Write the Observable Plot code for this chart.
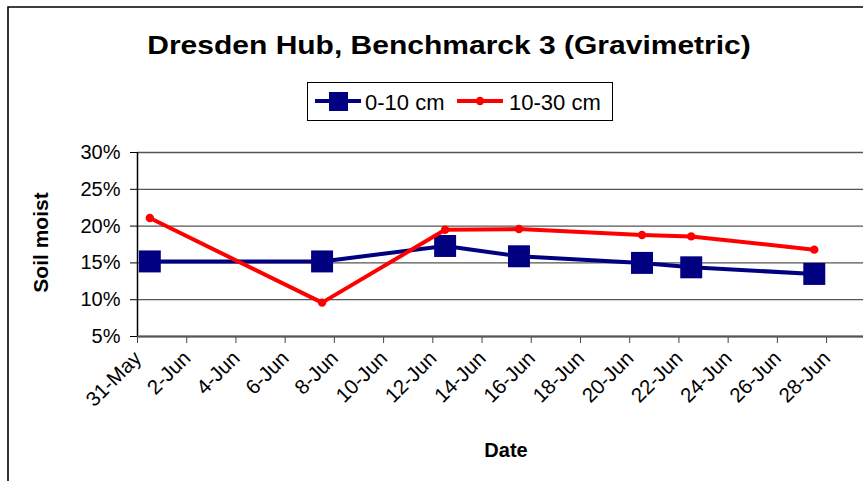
<!DOCTYPE html>
<html><head><meta charset="utf-8">
<script src="https://cdn.jsdelivr.net/npm/d3@7"></script>
<script src="https://cdn.jsdelivr.net/npm/@observablehq/plot@0.6"></script>
<style>
body{margin:0;background:#fff;}
#wrap{position:relative;width:863px;height:481px;overflow:hidden;background:#fff;}
</style>
</head><body>
<div id="wrap"></div>
<script>
// ---- data ----
const dates = ["2006-05-31","2006-06-07","2006-06-12","2006-06-15","2006-06-20","2006-06-22","2006-06-27"];
const shallow = [15.2, 15.2, 17.3, 15.9, 15.0, 14.4, 13.5];   // 0-10 cm (%)
const deep    = [21.1,  9.6, 19.5, 19.6, 18.8, 18.6, 16.8];   // 10-30 cm (%)
const seriesNames = ["0-10 cm", "10-30 cm"];
const xTickLabels = ["31-May","2-Jun","4-Jun","6-Jun","8-Jun","10-Jun","12-Jun","14-Jun","16-Jun","18-Jun","20-Jun","22-Jun","24-Jun","26-Jun","28-Jun"];
const yTicks = [5, 10, 15, 20, 25, 30];
const title = "Dresden Hub, Benchmarck 3 (Gravimetric)";
const xTitle = "Date";
const yTitle = "Soil moist";

// ---- build ----
const parseDay = d3.utcParse("%Y-%m-%d");
const parseTick = d3.utcParse("%d-%b-%Y");
// Excel date axis: a day's value sits at the middle of that day
const rows0 = dates.map((d, i) => ({date: d3.utcHour.offset(parseDay(d), 12), v: shallow[i]}));
const rows1 = dates.map((d, i) => ({date: d3.utcHour.offset(parseDay(d), 12), v: deep[i]}));
const ticks = xTickLabels.map(s => ({date: parseTick(s + "-2006"), label: s}));
const xStart = ticks[0].date;
const xEnd = d3.utcHour.offset(d3.utcDay.offset(ticks[ticks.length - 1].date, 1), 12);
const FONT = "'Liberation Sans', Arial, Helvetica, sans-serif";

const chart = Plot.plot({
  width: 863, height: 481,
  marginLeft: 137, marginRight: 0, marginTop: 152, marginBottom: 145,
  style: {fontFamily: FONT, background: "transparent", color: "#000"},
  x: {type: "utc", domain: [xStart, xEnd]},
  y: {domain: [5, 30]},
  marks: [
    Plot.gridY(yTicks, {stroke: "#555", strokeOpacity: 1, strokeWidth: 1.3}),
    Plot.axisY(yTicks, {tickSize: 7, tickPadding: 10, tickFormat: d => d + "%", fontSize: 20, label: null, stroke: "#000"}),
    Plot.axisX(ticks.map(t => t.date), {tickSize: 7, tickFormat: () => "", label: null, stroke: "#444"}),
    Plot.text(ticks, {x: "date", y: () => 5, text: "label", rotate: -45, textAnchor: "end", lineAnchor: "bottom",
      fontSize: 20.5, dx: 5, dy: 23, fill: "#000"}),
    Plot.ruleX([xStart], {stroke: "#000", strokeWidth: 1.5}),
    Plot.ruleY([5], {stroke: "#555", strokeWidth: 2.2}),
    Plot.line(rows0, {x: "date", y: "v", stroke: "#000080", strokeWidth: 4}),
    Plot.dot(rows0, {x: "date", y: "v", symbol: "square", r: 12.4, fill: "#000080", stroke: "none"}),
    Plot.line(rows1, {x: "date", y: "v", stroke: "#ff0000", strokeWidth: 4}),
    Plot.dot(rows1, {x: "date", y: "v", r: 4.2, fill: "#ff0000", stroke: "none"})
  ]
});
document.getElementById("wrap").appendChild(chart);

// ---- decorations: border, title, legend, axis titles ----
const svg = d3.select(chart);
svg.append("path").attr("d", "M8,481V7H863").attr("fill", "none").attr("stroke", "#000").attr("stroke-width", 1.6);
svg.append("text").text(title)
  .attr("transform", "translate(449,54) scale(1.2,1)")
  .attr("text-anchor", "middle").attr("font-family", FONT).attr("font-weight", "bold").attr("font-size", 25).attr("fill", "#000");
const lg = svg.append("g").attr("text-anchor", "start");
lg.append("rect").attr("x", 307.5).attr("y", 82.5).attr("width", 305).attr("height", 38)
  .attr("fill", "#fff").attr("stroke", "#000").attr("stroke-width", 1);
lg.append("line").attr("x1", 315).attr("x2", 361).attr("y1", 101).attr("y2", 101).attr("stroke", "#000080").attr("stroke-width", 4);
lg.append("rect").attr("x", 329).attr("y", 92).attr("width", 19).attr("height", 19).attr("fill", "#000080");
lg.append("text").text(seriesNames[0]).attr("x", 365).attr("y", 110).attr("text-anchor", "start").attr("font-family", FONT).attr("font-size", 22).attr("fill", "#000");
lg.append("line").attr("x1", 457).attr("x2", 503).attr("y1", 101).attr("y2", 101).attr("stroke", "#ff0000").attr("stroke-width", 4);
lg.append("circle").attr("cx", 480).attr("cy", 101).attr("r", 4.2).attr("fill", "#ff0000");
lg.append("text").text(seriesNames[1]).attr("x", 509).attr("y", 110).attr("text-anchor", "start").attr("font-family", FONT).attr("font-size", 22).attr("fill", "#000");
svg.append("text").text(xTitle).attr("x", 506).attr("y", 457).attr("text-anchor", "middle")
  .attr("font-family", FONT).attr("font-weight", "bold").attr("font-size", 20).attr("fill", "#000");
svg.append("text").text(yTitle).attr("transform", "translate(48,242.5) rotate(-90)").attr("text-anchor", "middle")
  .attr("font-family", FONT).attr("font-weight", "bold").attr("font-size", 21).attr("fill", "#000");
</script>
</body></html>
